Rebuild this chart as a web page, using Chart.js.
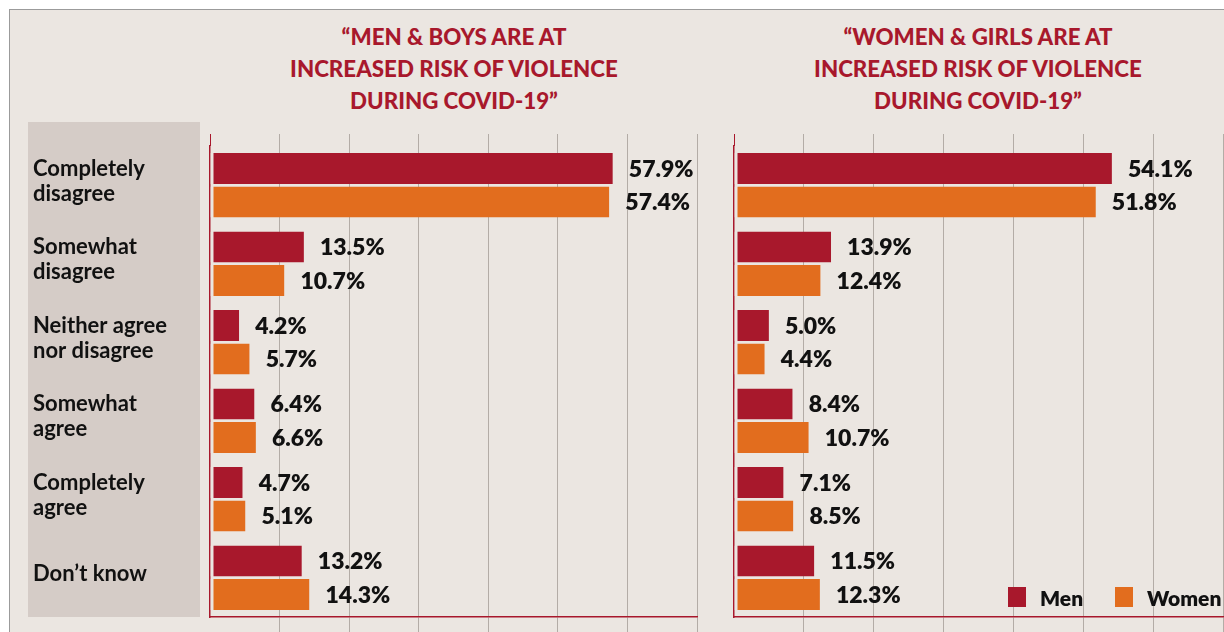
<!DOCTYPE html>
<html>
<head>
<meta charset="utf-8">
<script src="https://cdn.jsdelivr.net/npm/chart.js@4.4.1/dist/chart.umd.min.js"></script>
<style>
  html, body { margin: 0; padding: 0; background: #fff; width: 1224px; height: 632px; overflow: hidden; }
  #panel { position: absolute; left: 9px; top: 9px; width: 1215px; height: 623px; background: #ebe6e1;
           border-top: 1px solid #9b9b9b; border-left: 1px solid #9b9b9b; box-sizing: border-box; }
  #labelBox { position: absolute; left: 28px; top: 122px; width: 172px; height: 495px; background: #d5ccc7; }
  #leftChart { position: absolute; left: 0; top: 0; }
  #rightChart { position: absolute; left: 705px; top: 0; }
  .title { position: absolute; top: 20px; width: 520px; text-align: center; color: #a8182c;
           font: 900 23px/32px Lato, sans-serif; transform: scaleX(0.97); transform-origin: 50% 0; }
  #legend .item { position: absolute; top: 586px; height: 22px; display: flex; align-items: center;
                  font: 800 21px Lato, sans-serif; color: #111; }
  #legend .sw { width: 18px; height: 20px; margin-right: 14px; }
</style>
</head>
<body>
<div id="panel"></div>
<div id="labelBox"></div>
<div class="title" id="leftTitle" style="left:194px"></div>
<div class="title" id="rightTitle" style="left:718px"></div>
<canvas id="leftChart" width="705" height="632"></canvas>
<canvas id="rightChart" width="519" height="632"></canvas>
<div id="legend"></div>
<script>
// answers, top to bottom
const categories = [
    ['Completely', 'disagree'],
    ['Somewhat', 'disagree'],
    ['Neither agree', 'nor disagree'],
    ['Somewhat', 'agree'],
    ['Completely', 'agree'],
    ['Don\u2019t know']
];
const seriesNames = ['Men', 'Women'];

// "Men & boys are at increased risk..."
const boysMen = [57.9, 13.5, 4.2, 6.4, 4.7, 13.2];
const boysWomen = [57.4, 10.7, 5.7, 6.6, 5.1, 14.3];

// "Women & girls are at increased risk..."
const girlsMen = [54.1, 13.9, 5.0, 8.4, 7.1, 11.5];
const girlsWomen = [51.8, 12.4, 4.4, 10.7, 8.5, 12.3];

const leftTitle = ['\u201cMEN & BOYS ARE AT', 'INCREASED RISK OF VIOLENCE', 'DURING COVID-19\u201d'];
const rightTitle = ['\u201cWOMEN & GIRLS ARE AT', 'INCREASED RISK OF VIOLENCE', 'DURING COVID-19\u201d'];

const axisMax = 70;
const axisStep = 10;

document.addEventListener('DOMContentLoaded', function() {
    const red = '#a8182c';
    const orange = '#e26d1e';
    const bg = '#ebe6e1';
    const gridGray = '#b3aca6';

    const valueLabels = {
        id: 'valueLabels',
        afterDatasetsDraw: function(chart) {
            const ctx = chart.ctx;
            ctx.save();
            ctx.font = '800 23px Lato, sans-serif';
            ctx.fillStyle = '#111';
            ctx.textBaseline = 'middle';
            ctx.textAlign = 'left';
            chart.data.datasets.forEach(function(ds, i) {
                chart.getDatasetMeta(i).data.forEach(function(bar, j) {
                    ctx.fillText(ds.data[j].toFixed(1) + '%', bar.x + 16, bar.y + 1);
                });
            });
            ctx.restore();
        }
    };

    function isZero(ctx) {
        return ctx.tick && ctx.tick.value === 0;
    }

    function makeChart(id, menData, womenData, showLabels, axisWidth, padLeft, padRight) {
        const ctx = document.getElementById(id).getContext('2d');
        return new Chart(ctx, {
            type: 'bar',
            data: {
                labels: categories,
                datasets: [
                    { label: seriesNames[0], data: menData, backgroundColor: red },
                    { label: seriesNames[1], data: womenData, backgroundColor: orange }
                ]
            },
            options: {
                indexAxis: 'y',
                responsive: false,
                animation: false,
                categoryPercentage: 0.852,
                barPercentage: 0.925,
                datasets: {
                    bar: {
                        borderWidth: { left: 3, right: 0, top: 0, bottom: 0 },
                        borderColor: bg,
                        borderSkipped: false
                    }
                },
                layout: { padding: { left: padLeft, right: padRight, top: 134, bottom: 0 } },
                scales: {
                    x: {
                        position: 'bottom',
                        min: 0,
                        max: axisMax,
                        ticks: { display: false, stepSize: axisStep },
                        grid: {
                            color: function(c) { return isZero(c) ? 'rgba(0,0,0,0)' : gridGray; },
                            tickColor: function(c) { return isZero(c) ? 'rgba(0,0,0,0)' : gridGray; },
                            tickLength: 15,
                            lineWidth: 1
                        },
                        border: { color: red, width: 1.5 }
                    },
                    xTop: {
                        axis: 'x',
                        position: 'top',
                        min: 0,
                        max: axisMax,
                        ticks: { display: false, stepSize: axisStep },
                        grid: {
                            drawOnChartArea: false,
                            tickLength: 12,
                            tickColor: function(c) { return isZero(c) ? red : gridGray; }
                        },
                        border: { display: false }
                    },
                    y: {
                        z: 1,
                        grid: { display: false },
                        border: { color: red, width: 1.5 },
                        ticks: {
                            display: showLabels,
                            crossAlign: 'far',
                            labelOffset: -4,
                            color: '#111',
                            font: { family: 'Lato', size: 22, weight: 700, lineHeight: 1.14 }
                        },
                        afterFit: function(scale) {
                            scale.width = axisWidth;
                            scale.paddingTop = 0;
                            scale.paddingBottom = 0;
                        }
                    }
                },
                plugins: {
                    legend: { display: false },
                    tooltip: { enabled: false }
                }
            },
            plugins: [valueLabels]
        });
    }

    makeChart('leftChart', boysMen, boysWomen, true, 177, 33, 8);
    makeChart('rightChart', girlsMen, girlsWomen, false, 29, 0, 1);

    document.getElementById('leftTitle').innerHTML = leftTitle.join('<br>');
    document.getElementById('rightTitle').innerHTML = rightTitle.join('<br>');

    // legend built from the series names and colours
    const legend = document.getElementById('legend');
    const legendLeft = [1008, 1115];
    [red, orange].forEach(function(col, i) {
        const item = document.createElement('div');
        item.className = 'item';
        item.style.left = legendLeft[i] + 'px';
        item.innerHTML = '<div class="sw" style="background:' + col + '"></div><span>' + seriesNames[i] + '</span>';
        legend.appendChild(item);
    });
});
</script>
</body>
</html>
